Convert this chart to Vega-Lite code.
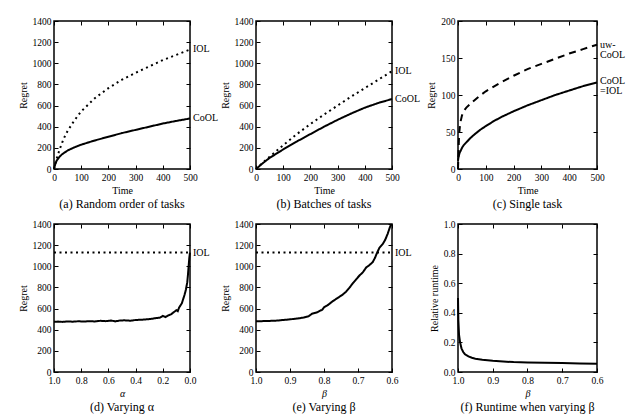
{
  "$schema": "https://vega.github.io/schema/vega-lite/v6.json",
  "background": "white",
  "padding": {"left": 17, "top": 15, "right": 0, "bottom": 0},
  "config": {
    "font": "Liberation Serif",
    "view": {"stroke": "black", "strokeWidth": 1.5},
    "axis": {
      "labelFont": "Liberation Serif", "titleFont": "Liberation Serif",
      "labelFontSize": 9.5, "titleFontSize": 10, "titleFontWeight": "normal",
      "labelColor": "black", "titleColor": "black", "tickColor": "black",
      "tickWidth": 1, "tickSize": -4, "labelPadding": 7, "domain": false, "grid": false,
      "labelFlush": false, "labelOverlap": false
    },
    "title": {"font": "Liberation Serif", "fontSize": 12, "fontWeight": "normal", "color": "black", "orient": "bottom", "offset": 3},
    "text": {"font": "Liberation Serif", "fontSize": 10, "color": "black"}
  },
  "resolve": {"scale": {"strokeDash": "independent"}},
  "datasets": {
    "a": [
      {"t": 0, "v": 0, "s": "IOL"}, {"t": 10, "v": 100, "s": "IOL"}, {"t": 20, "v": 180, "s": "IOL"}, {"t": 30, "v": 250, "s": "IOL"}, {"t": 40, "v": 310, "s": "IOL"}, {"t": 50, "v": 360, "s": "IOL"}, {"t": 75, "v": 460, "s": "IOL"}, {"t": 100, "v": 545, "s": "IOL"}, {"t": 150, "v": 670, "s": "IOL"}, {"t": 200, "v": 765, "s": "IOL"}, {"t": 250, "v": 845, "s": "IOL"}, {"t": 300, "v": 910, "s": "IOL"}, {"t": 350, "v": 970, "s": "IOL"}, {"t": 400, "v": 1030, "s": "IOL"}, {"t": 450, "v": 1080, "s": "IOL"}, {"t": 500, "v": 1130, "s": "IOL"},
      {"t": 0, "v": 0, "s": "CoOL"}, {"t": 5, "v": 50, "s": "CoOL"}, {"t": 10, "v": 80, "s": "CoOL"}, {"t": 20, "v": 115, "s": "CoOL"}, {"t": 30, "v": 140, "s": "CoOL"}, {"t": 50, "v": 175, "s": "CoOL"}, {"t": 75, "v": 205, "s": "CoOL"}, {"t": 100, "v": 230, "s": "CoOL"}, {"t": 150, "v": 270, "s": "CoOL"}, {"t": 200, "v": 305, "s": "CoOL"}, {"t": 250, "v": 340, "s": "CoOL"}, {"t": 300, "v": 370, "s": "CoOL"}, {"t": 350, "v": 400, "s": "CoOL"}, {"t": 400, "v": 430, "s": "CoOL"}, {"t": 450, "v": 455, "s": "CoOL"}, {"t": 500, "v": 478, "s": "CoOL"}
    ],
    "a_lab": [{"t": 500, "v": 1137, "label": "IOL"}, {"t": 500, "v": 482, "label": "CoOL"}],
    "b": [
      {"t": 0, "v": 0, "s": "IOL"}, {"t": 25, "v": 60, "s": "IOL"}, {"t": 50, "v": 115, "s": "IOL"}, {"t": 100, "v": 225, "s": "IOL"}, {"t": 150, "v": 330, "s": "IOL"}, {"t": 200, "v": 425, "s": "IOL"}, {"t": 250, "v": 515, "s": "IOL"}, {"t": 300, "v": 600, "s": "IOL"}, {"t": 350, "v": 685, "s": "IOL"}, {"t": 400, "v": 765, "s": "IOL"}, {"t": 450, "v": 845, "s": "IOL"}, {"t": 500, "v": 925, "s": "IOL"},
      {"t": 0, "v": 0, "s": "CoOL"}, {"t": 25, "v": 55, "s": "CoOL"}, {"t": 50, "v": 105, "s": "CoOL"}, {"t": 100, "v": 185, "s": "CoOL"}, {"t": 150, "v": 260, "s": "CoOL"}, {"t": 200, "v": 330, "s": "CoOL"}, {"t": 250, "v": 400, "s": "CoOL"}, {"t": 300, "v": 465, "s": "CoOL"}, {"t": 350, "v": 525, "s": "CoOL"}, {"t": 400, "v": 580, "s": "CoOL"}, {"t": 450, "v": 625, "s": "CoOL"}, {"t": 500, "v": 662, "s": "CoOL"}
    ],
    "b_lab": [{"t": 500, "v": 930, "label": "IOL"}, {"t": 500, "v": 665, "label": "CoOL"}],
    "c": [
      {"t": 0, "v": 0, "s": "uw"}, {"t": 2, "v": 25, "s": "uw"}, {"t": 4, "v": 47, "s": "uw"}, {"t": 8, "v": 62, "s": "uw"}, {"t": 14, "v": 72, "s": "uw"}, {"t": 20, "v": 78, "s": "uw"}, {"t": 30, "v": 83, "s": "uw"}, {"t": 50, "v": 90, "s": "uw"}, {"t": 75, "v": 98, "s": "uw"}, {"t": 100, "v": 105, "s": "uw"}, {"t": 150, "v": 116, "s": "uw"}, {"t": 200, "v": 126, "s": "uw"}, {"t": 250, "v": 135, "s": "uw"}, {"t": 300, "v": 142, "s": "uw"}, {"t": 350, "v": 149, "s": "uw"}, {"t": 400, "v": 156, "s": "uw"}, {"t": 450, "v": 162, "s": "uw"}, {"t": 500, "v": 168, "s": "uw"},
      {"t": 0, "v": 11, "s": "CoOL"}, {"t": 1, "v": 14, "s": "CoOL"}, {"t": 3, "v": 18, "s": "CoOL"}, {"t": 6, "v": 22, "s": "CoOL"}, {"t": 10, "v": 25, "s": "CoOL"}, {"t": 15, "v": 29, "s": "CoOL"}, {"t": 20, "v": 32, "s": "CoOL"}, {"t": 30, "v": 36, "s": "CoOL"}, {"t": 45, "v": 42, "s": "CoOL"}, {"t": 60, "v": 47, "s": "CoOL"}, {"t": 80, "v": 53, "s": "CoOL"}, {"t": 100, "v": 58, "s": "CoOL"}, {"t": 130, "v": 65, "s": "CoOL"}, {"t": 160, "v": 71, "s": "CoOL"}, {"t": 200, "v": 78, "s": "CoOL"}, {"t": 250, "v": 86, "s": "CoOL"}, {"t": 300, "v": 93, "s": "CoOL"}, {"t": 350, "v": 100, "s": "CoOL"}, {"t": 400, "v": 106, "s": "CoOL"}, {"t": 450, "v": 112, "s": "CoOL"}, {"t": 500, "v": 117, "s": "CoOL"}
    ],
    "c_lab": [{"t": 500, "v": 168, "label": "uw-\nCoOL"}, {"t": 500, "v": 119, "label": "CoOL\n=IOL"}],
    "d": [
      {"x": 1.0, "v": 475, "s": "CoOL"}, {"x": 0.97, "v": 477, "s": "CoOL"}, {"x": 0.94, "v": 474, "s": "CoOL"}, {"x": 0.9, "v": 478, "s": "CoOL"}, {"x": 0.86, "v": 476, "s": "CoOL"}, {"x": 0.82, "v": 480, "s": "CoOL"}, {"x": 0.78, "v": 477, "s": "CoOL"}, {"x": 0.74, "v": 481, "s": "CoOL"}, {"x": 0.7, "v": 478, "s": "CoOL"}, {"x": 0.66, "v": 484, "s": "CoOL"}, {"x": 0.62, "v": 481, "s": "CoOL"}, {"x": 0.58, "v": 487, "s": "CoOL"}, {"x": 0.55, "v": 479, "s": "CoOL"}, {"x": 0.52, "v": 486, "s": "CoOL"}, {"x": 0.48, "v": 489, "s": "CoOL"}, {"x": 0.44, "v": 485, "s": "CoOL"}, {"x": 0.4, "v": 492, "s": "CoOL"}, {"x": 0.36, "v": 494, "s": "CoOL"}, {"x": 0.32, "v": 498, "s": "CoOL"}, {"x": 0.28, "v": 503, "s": "CoOL"}, {"x": 0.25, "v": 510, "s": "CoOL"}, {"x": 0.22, "v": 515, "s": "CoOL"}, {"x": 0.2, "v": 530, "s": "CoOL"}, {"x": 0.18, "v": 520, "s": "CoOL"}, {"x": 0.16, "v": 535, "s": "CoOL"}, {"x": 0.14, "v": 545, "s": "CoOL"}, {"x": 0.12, "v": 565, "s": "CoOL"}, {"x": 0.1, "v": 585, "s": "CoOL"}, {"x": 0.09, "v": 575, "s": "CoOL"}, {"x": 0.08, "v": 610, "s": "CoOL"}, {"x": 0.06, "v": 650, "s": "CoOL"}, {"x": 0.05, "v": 690, "s": "CoOL"}, {"x": 0.04, "v": 730, "s": "CoOL"}, {"x": 0.03, "v": 780, "s": "CoOL"}, {"x": 0.02, "v": 850, "s": "CoOL"}, {"x": 0.015, "v": 920, "s": "CoOL"}, {"x": 0.01, "v": 1000, "s": "CoOL"}, {"x": 0.005, "v": 1080, "s": "CoOL"}, {"x": 0.0, "v": 1130, "s": "CoOL"},
      {"x": 1.0, "v": 1130, "s": "IOL"}, {"x": 0.0, "v": 1130, "s": "IOL"}
    ],
    "d_lab": [{"x": 0.0, "v": 1130, "label": "IOL"}],
    "e": [
      {"x": 1.0, "v": 480, "s": "CoOL"}, {"x": 0.97, "v": 482, "s": "CoOL"}, {"x": 0.94, "v": 486, "s": "CoOL"}, {"x": 0.91, "v": 495, "s": "CoOL"}, {"x": 0.88, "v": 505, "s": "CoOL"}, {"x": 0.86, "v": 515, "s": "CoOL"}, {"x": 0.845, "v": 528, "s": "CoOL"}, {"x": 0.835, "v": 552, "s": "CoOL"}, {"x": 0.82, "v": 565, "s": "CoOL"}, {"x": 0.805, "v": 590, "s": "CoOL"}, {"x": 0.8, "v": 612, "s": "CoOL"}, {"x": 0.79, "v": 630, "s": "CoOL"}, {"x": 0.775, "v": 668, "s": "CoOL"}, {"x": 0.76, "v": 700, "s": "CoOL"}, {"x": 0.745, "v": 732, "s": "CoOL"}, {"x": 0.735, "v": 760, "s": "CoOL"}, {"x": 0.725, "v": 798, "s": "CoOL"}, {"x": 0.715, "v": 840, "s": "CoOL"}, {"x": 0.705, "v": 878, "s": "CoOL"}, {"x": 0.695, "v": 915, "s": "CoOL"}, {"x": 0.686, "v": 942, "s": "CoOL"}, {"x": 0.676, "v": 988, "s": "CoOL"}, {"x": 0.667, "v": 1010, "s": "CoOL"}, {"x": 0.657, "v": 1038, "s": "CoOL"}, {"x": 0.65, "v": 1080, "s": "CoOL"}, {"x": 0.645, "v": 1120, "s": "CoOL"}, {"x": 0.637, "v": 1175, "s": "CoOL"}, {"x": 0.627, "v": 1212, "s": "CoOL"}, {"x": 0.62, "v": 1250, "s": "CoOL"}, {"x": 0.613, "v": 1305, "s": "CoOL"}, {"x": 0.605, "v": 1380, "s": "CoOL"}, {"x": 0.601, "v": 1400, "s": "CoOL"},
      {"x": 1.0, "v": 1130, "s": "IOL"}, {"x": 0.6, "v": 1130, "s": "IOL"}
    ],
    "e_lab": [{"x": 0.6, "v": 1130, "label": "IOL"}],
    "f": [
      {"x": 1.0, "v": 0.5}, {"x": 0.999, "v": 0.35}, {"x": 0.997, "v": 0.25}, {"x": 0.994, "v": 0.2}, {"x": 0.99, "v": 0.16}, {"x": 0.985, "v": 0.135}, {"x": 0.98, "v": 0.12}, {"x": 0.97, "v": 0.105}, {"x": 0.96, "v": 0.096}, {"x": 0.95, "v": 0.09}, {"x": 0.93, "v": 0.083}, {"x": 0.9, "v": 0.076}, {"x": 0.87, "v": 0.071}, {"x": 0.84, "v": 0.067}, {"x": 0.8, "v": 0.065}, {"x": 0.75, "v": 0.062}, {"x": 0.7, "v": 0.06}, {"x": 0.65, "v": 0.058}, {"x": 0.6, "v": 0.056}
    ]
  },
  "columns": 3,
  "spacing": {"row": 55, "column": 66},
  "bounds": "flush",
  "concat": [
    {
      "width": 136, "height": 148,
      "title": "(a) Random order of tasks",
      "resolve": {"axis": {"x": "independent", "y": "independent"}},
      "layer": [
        {"data": {"name": "a"}, "mark": {"type": "line", "color": "black", "strokeWidth": 2},
         "encoding": {
           "x": {"field": "t", "type": "quantitative", "scale": {"domain": [0, 500], "nice": false}, "axis": {"values": [0, 100, 200, 300, 400, 500], "title": "Time"}},
           "y": {"field": "v", "type": "quantitative", "scale": {"domain": [0, 1400], "nice": false}, "axis": {"values": [0, 200, 400, 600, 800, 1000, 1200, 1400], "format": "d", "title": "Regret"}},
           "strokeDash": {"field": "s", "type": "nominal", "scale": {"domain": ["CoOL", "IOL", "uw"], "range": [[1, 0], [2, 3.5], [7, 5]]}, "legend": null}
         }},
        {"data": {"name": "a"}, "mark": {"type": "line", "opacity": 0},
         "encoding": {
           "x": {"field": "t", "type": "quantitative", "axis": {"orient": "top", "labels": false, "title": null, "values": [0, 100, 200, 300, 400, 500]}},
           "y": {"field": "v", "type": "quantitative", "axis": {"orient": "right", "labels": false, "title": null, "values": [0, 200, 400, 600, 800, 1000, 1200, 1400]}},
           "detail": {"field": "s"}
         }},
        {"data": {"name": "a_lab"}, "mark": {"type": "text", "align": "left", "dx": 3, "baseline": "middle"},
         "encoding": {
           "x": {"field": "t", "type": "quantitative", "axis": null},
           "y": {"field": "v", "type": "quantitative", "axis": null},
           "text": {"field": "label"}
         }}
      ]
    },
    {
      "width": 136, "height": 148,
      "title": "(b) Batches of tasks",
      "resolve": {"axis": {"x": "independent", "y": "independent"}},
      "layer": [
        {"data": {"name": "b"}, "mark": {"type": "line", "color": "black", "strokeWidth": 2},
         "encoding": {
           "x": {"field": "t", "type": "quantitative", "scale": {"domain": [0, 500], "nice": false}, "axis": {"values": [0, 100, 200, 300, 400, 500], "title": "Time"}},
           "y": {"field": "v", "type": "quantitative", "scale": {"domain": [0, 1400], "nice": false}, "axis": {"values": [0, 200, 400, 600, 800, 1000, 1200, 1400], "format": "d", "title": "Regret"}},
           "strokeDash": {"field": "s", "type": "nominal", "scale": {"domain": ["CoOL", "IOL", "uw"], "range": [[1, 0], [2, 3.5], [7, 5]]}, "legend": null}
         }},
        {"data": {"name": "b"}, "mark": {"type": "line", "opacity": 0},
         "encoding": {
           "x": {"field": "t", "type": "quantitative", "axis": {"orient": "top", "labels": false, "title": null, "values": [0, 100, 200, 300, 400, 500]}},
           "y": {"field": "v", "type": "quantitative", "axis": {"orient": "right", "labels": false, "title": null, "values": [0, 200, 400, 600, 800, 1000, 1200, 1400]}},
           "detail": {"field": "s"}
         }},
        {"data": {"name": "b_lab"}, "mark": {"type": "text", "align": "left", "dx": 3, "baseline": "middle"},
         "encoding": {
           "x": {"field": "t", "type": "quantitative", "axis": null},
           "y": {"field": "v", "type": "quantitative", "axis": null},
           "text": {"field": "label"}
         }}
      ]
    },
    {
      "width": 139, "height": 148,
      "title": "(c) Single task",
      "resolve": {"axis": {"x": "independent", "y": "independent"}},
      "layer": [
        {"data": {"name": "c"}, "mark": {"type": "line", "color": "black", "strokeWidth": 2},
         "encoding": {
           "x": {"field": "t", "type": "quantitative", "scale": {"domain": [0, 500], "nice": false}, "axis": {"values": [0, 100, 200, 300, 400, 500], "title": "Time"}},
           "y": {"field": "v", "type": "quantitative", "scale": {"domain": [0, 200], "nice": false}, "axis": {"values": [0, 50, 100, 150, 200], "title": "Regret"}},
           "strokeDash": {"field": "s", "type": "nominal", "scale": {"domain": ["CoOL", "IOL", "uw"], "range": [[1, 0], [2, 3.5], [7, 5]]}, "legend": null}
         }},
        {"data": {"name": "c"}, "mark": {"type": "line", "opacity": 0},
         "encoding": {
           "x": {"field": "t", "type": "quantitative", "axis": {"orient": "top", "labels": false, "title": null, "values": [0, 100, 200, 300, 400, 500]}},
           "y": {"field": "v", "type": "quantitative", "axis": {"orient": "right", "labels": false, "title": null, "values": [0, 50, 100, 150, 200]}},
           "detail": {"field": "s"}
         }},
        {"data": {"name": "c_lab"}, "mark": {"type": "text", "align": "left", "dx": 3, "baseline": "middle", "lineBreak": "\n", "lineHeight": 10},
         "encoding": {
           "x": {"field": "t", "type": "quantitative", "axis": null},
           "y": {"field": "v", "type": "quantitative", "axis": null},
           "text": {"field": "label"}
         }}
      ]
    },
    {
      "width": 136, "height": 148,
      "title": "(d) Varying α",
      "resolve": {"axis": {"x": "independent", "y": "independent"}},
      "layer": [
        {"data": {"name": "d"}, "mark": {"type": "line", "color": "black", "strokeWidth": 2},
         "encoding": {
           "x": {"field": "x", "type": "quantitative", "scale": {"domain": [0, 1], "nice": false, "reverse": true}, "axis": {"values": [0, 0.2, 0.4, 0.6, 0.8, 1.0], "format": ".1f", "title": "α", "titleFontStyle": "italic"}},
           "y": {"field": "v", "type": "quantitative", "scale": {"domain": [0, 1400], "nice": false}, "axis": {"values": [0, 200, 400, 600, 800, 1000, 1200, 1400], "format": "d", "title": "Regret"}},
           "strokeDash": {"field": "s", "type": "nominal", "scale": {"domain": ["CoOL", "IOL", "uw"], "range": [[1, 0], [2, 3.5], [7, 5]]}, "legend": null}
         }},
        {"data": {"name": "d"}, "mark": {"type": "line", "opacity": 0},
         "encoding": {
           "x": {"field": "x", "type": "quantitative", "axis": {"orient": "top", "labels": false, "title": null, "values": [0, 0.2, 0.4, 0.6, 0.8, 1.0]}},
           "y": {"field": "v", "type": "quantitative", "axis": {"orient": "right", "labels": false, "title": null, "values": [0, 200, 400, 600, 800, 1000, 1200, 1400]}},
           "detail": {"field": "s"}
         }},
        {"data": {"name": "d_lab"}, "mark": {"type": "text", "align": "left", "dx": 3, "baseline": "middle"},
         "encoding": {
           "x": {"field": "x", "type": "quantitative", "axis": null},
           "y": {"field": "v", "type": "quantitative", "axis": null},
           "text": {"field": "label"}
         }}
      ]
    },
    {
      "width": 136, "height": 148,
      "title": "(e) Varying β",
      "resolve": {"axis": {"x": "independent", "y": "independent"}},
      "layer": [
        {"data": {"name": "e"}, "mark": {"type": "line", "color": "black", "strokeWidth": 2, "clip": true},
         "encoding": {
           "x": {"field": "x", "type": "quantitative", "scale": {"domain": [0.6, 1], "nice": false, "zero": false, "reverse": true}, "axis": {"values": [0.6, 0.7, 0.8, 0.9, 1.0], "format": ".1f", "title": "β", "titleFontStyle": "italic"}},
           "y": {"field": "v", "type": "quantitative", "scale": {"domain": [0, 1400], "nice": false}, "axis": {"values": [0, 200, 400, 600, 800, 1000, 1200, 1400], "format": "d", "title": "Regret"}},
           "strokeDash": {"field": "s", "type": "nominal", "scale": {"domain": ["CoOL", "IOL", "uw"], "range": [[1, 0], [2, 3.5], [7, 5]]}, "legend": null}
         }},
        {"data": {"name": "e"}, "mark": {"type": "line", "opacity": 0},
         "encoding": {
           "x": {"field": "x", "type": "quantitative", "axis": {"orient": "top", "labels": false, "title": null, "values": [0.6, 0.7, 0.8, 0.9, 1.0]}},
           "y": {"field": "v", "type": "quantitative", "axis": {"orient": "right", "labels": false, "title": null, "values": [0, 200, 400, 600, 800, 1000, 1200, 1400]}},
           "detail": {"field": "s"}
         }},
        {"data": {"name": "e_lab"}, "mark": {"type": "text", "align": "left", "dx": 3, "baseline": "middle"},
         "encoding": {
           "x": {"field": "x", "type": "quantitative", "axis": null},
           "y": {"field": "v", "type": "quantitative", "axis": null},
           "text": {"field": "label"}
         }}
      ]
    },
    {
      "width": 139, "height": 148,
      "title": "(f) Runtime when varying β",
      "resolve": {"axis": {"x": "independent", "y": "independent"}},
      "layer": [
        {"data": {"name": "f"}, "mark": {"type": "line", "color": "black", "strokeWidth": 2},
         "encoding": {
           "x": {"field": "x", "type": "quantitative", "scale": {"domain": [0.6, 1], "nice": false, "zero": false, "reverse": true}, "axis": {"values": [0.6, 0.7, 0.8, 0.9, 1.0], "format": ".1f", "title": "β", "titleFontStyle": "italic"}},
           "y": {"field": "v", "type": "quantitative", "scale": {"domain": [0, 1], "nice": false}, "axis": {"values": [0, 0.2, 0.4, 0.6, 0.8, 1.0], "format": ".1f", "title": "Relative runtime"}}
         }},
        {"data": {"name": "f"}, "mark": {"type": "line", "opacity": 0},
         "encoding": {
           "x": {"field": "x", "type": "quantitative", "axis": {"orient": "top", "labels": false, "title": null, "values": [0.6, 0.7, 0.8, 0.9, 1.0]}},
           "y": {"field": "v", "type": "quantitative", "axis": {"orient": "right", "labels": false, "title": null, "values": [0, 0.2, 0.4, 0.6, 0.8, 1.0]}}
         }}
      ]
    }
  ]
}
